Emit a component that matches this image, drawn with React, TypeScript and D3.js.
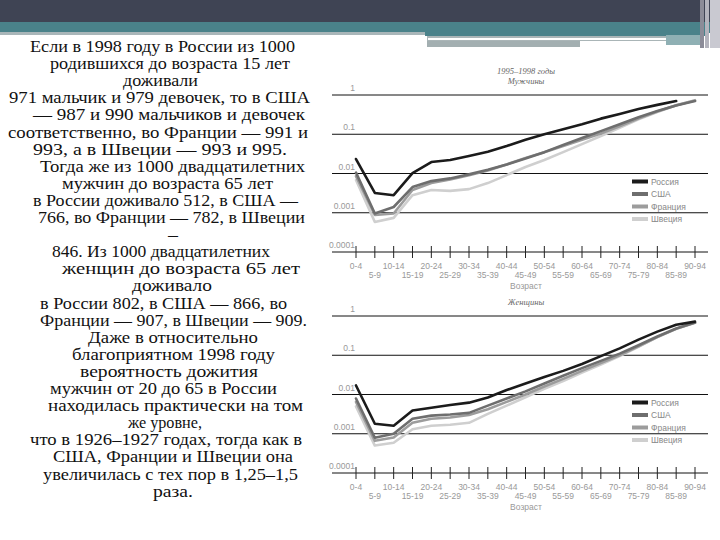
import * as d3 from 'd3';

const ages = ['0-4', '5-9', '10-14', '15-19', '20-24', '25-29', '30-34', '35-39', '40-44', '45-49',
  '50-54', '55-59', '60-64', '65-69', '70-74', '75-79', '80-84', '85-89', '90-94'];
const countries = ['Россия', 'США', 'Франция', 'Швеция'];
const yTicks = [1, 0.1, 0.01, 0.001, 0.0001];
const yTickLabels = ['1', '0.1', '0.01', '0.001', '0.0001'];

// вероятность смерти, мужчины
const menRussia = [0.0234, 0.0032, 0.0028, 0.0102, 0.0196, 0.022, 0.028, 0.036, 0.05, 0.072,
  0.1, 0.135, 0.18, 0.25, 0.33, 0.44, 0.56, 0.7, null];
const menUSA = [0.0105, 0.00096, 0.0014, 0.0045, 0.0064, 0.0075, 0.0095, 0.0125, 0.017, 0.024,
  0.035, 0.053, 0.08, 0.12, 0.18, 0.27, 0.39, 0.54, 0.7];
const menFrance = [0.0085, 0.00088, 0.00096, 0.0038, 0.0057, 0.007, 0.009, 0.012, 0.017, 0.025,
  0.035, 0.05, 0.072, 0.105, 0.16, 0.25, 0.38, 0.55, 0.72];
const menSweden = [0.0068, 0.00058, 0.00074, 0.0028, 0.0038, 0.0036, 0.004, 0.0057, 0.0091, 0.0146,
  0.022, 0.035, 0.056, 0.09, 0.145, 0.24, 0.37, 0.55, 0.74];

// вероятность смерти, женщины
const womenRussia = [0.017, 0.0018, 0.0016, 0.0039, 0.0046, 0.0054, 0.0062, 0.0084, 0.013, 0.019,
  0.028, 0.04, 0.06, 0.095, 0.15, 0.25, 0.4, 0.6, 0.72];
const womenUSA = [0.0079, 0.00079, 0.001, 0.0024, 0.0029, 0.0031, 0.0034, 0.0052, 0.0079, 0.012,
  0.019, 0.03, 0.047, 0.072, 0.11, 0.18, 0.3, 0.48, 0.68];
const womenFrance = [0.0065, 0.00066, 0.0008, 0.0019, 0.0024, 0.0026, 0.003, 0.0042, 0.0065, 0.01,
  0.016, 0.025, 0.04, 0.063, 0.1, 0.17, 0.29, 0.47, 0.67];
const womenSweden = [0.005, 0.0005, 0.00059, 0.0013, 0.0016, 0.0017, 0.0019, 0.0032, 0.0052, 0.0085,
  0.014, 0.022, 0.036, 0.058, 0.095, 0.165, 0.29, 0.47, 0.68];

const textLines = [
  'Если в 1998 году в России из 1000',
  'родившихся до возраста 15 лет',
  'доживали',
  '971 мальчик и 979 девочек, то в США',
  '— 987 и 990 мальчиков и девочек',
  'соответственно, во Франции — 991 и',
  '993, а в Швеции — 993 и 995.',
  'Тогда же из 1000 двадцатилетних',
  'мужчин до возраста 65 лет',
  'в России доживало 512, в США —',
  '766, во Франции — 782, в Швеции',
  '—',
  '846. Из 1000 двадцатилетних',
  'женщин до возраста 65 лет',
  'доживало',
  'в России 802, в США — 866, во',
  'Франции — 907, в Швеции — 909.',
  'Даже в относительно',
  'благоприятном 1998 году',
  'вероятность дожития',
  'мужчин от 20 до 65 в России',
  'находилась практически на том',
  'же уровне,',
  'что в 1926–1927 годах, тогда как в',
  'США, Франции и Швеции она',
  'увеличилась с тех пор в 1,25–1,5',
  'раза.',
];
// left / right edges of each text line
const lineSpans = [
  [30, 295], [50, 290], [123, 198], [9, 310], [33, 305], [8, 308], [33, 287], [40, 305],
  [62, 273], [33, 298], [38, 305], [168, 178], [52, 270], [62, 300], [132, 212], [40, 287],
  [40, 307], [88, 258], [72, 275], [80, 258], [50, 277], [48, 303], [128, 202], [30, 302],
  [53, 293], [43, 298], [153, 193],
];

const colors = ['#1b1b1b', '#6e6e6e', '#9c9c9c', '#cfcfcf'];
const sans = "'Liberation Sans', Arial, sans-serif";
const serif = "'Liberation Serif', 'Times New Roman', serif";

function Panel({ top, titles, series }: { top: number; titles: string[]; series: (number | null)[][] }) {
  const x = d3.scalePoint<string>().domain(ages).range([356, 695]);
  const y = d3.scaleLog().domain([1e-4, 1]).range([top + 157, top]);
  const line = d3.line<number | null>()
    .defined(d => d != null)
    .x((_, i) => x(ages[i]) as number)
    .y(d => y(d as number));
  const axisY = y(1e-4);
  const legendTop = y(0.01) + 8;

  return (
    <g>
      {titles.map((t, i) => (
        <text key={t} x={526} y={top - 21 + i * 10 + (titles.length === 1 ? 10 : 0)} textAnchor="middle"
          style={{ fontFamily: serif }} fontStyle="italic" fontSize={8.5} fill="#666">{t}</text>
      ))}
      {yTicks.map((t, i) => (
        <g key={t}>
          <line x1={332} x2={708} y1={y(t)} y2={y(t)} stroke="#111" strokeWidth={1} />
          <text x={355} y={y(t) - 4} textAnchor="end" style={{ fontFamily: sans }} fontSize={8.5} fill="#999">
            {yTickLabels[i]}
          </text>
        </g>
      ))}
      {ages.map((a, i) => (
        <g key={a}>
          <line x1={x(a)} x2={x(a)} y1={axisY - 6} y2={axisY + 6} stroke="#222" strokeWidth={1} />
          <text x={x(a)} y={axisY + (i % 2 === 0 ? 17 : 26)} textAnchor="middle" style={{ fontFamily: sans }}
            fontSize={8.5} fill="#999">{a}</text>
        </g>
      ))}
      <text x={526} y={axisY + 37} textAnchor="middle" style={{ fontFamily: sans }} fontSize={8.5} fill="#999">Возраст</text>
      {series.map((s, i) => ({ s, i })).reverse().map(({ s, i }) => (
        <path key={i} d={line(s) || ''} fill="none" stroke={colors[i]} strokeWidth={2.6}
          strokeLinejoin="round" strokeLinecap="round" />
      ))}
      {countries.map((c, i) => (
        <g key={c}>
          <line x1={632} x2={648} y1={legendTop + i * 12.5} y2={legendTop + i * 12.5} stroke={colors[i]} strokeWidth={4} />
          <text x={651} y={legendTop + i * 12.5 + 3} style={{ fontFamily: sans }} fontSize={8.5} fill="#888">{c}</text>
        </g>
      ))}
    </g>
  );
}

export default function App() {
  return (
    <svg width={720} height={540} style={{ position: 'fixed', left: 0, top: 0, background: '#fff' }}>
      <rect x={0} y={0} width={720} height={540} fill="#fff" />
      {/* header bands */}
      <rect x={0} y={0} width={720} height={22} fill="#3f4454" />
      <rect x={0} y={22} width={720} height={11} fill="#4a828a" />
      <rect x={0} y={32} width={425} height={3} fill="#a9b6b9" />
      <rect x={425} y={32} width={280} height={4} fill="#4a828a" />
      <rect x={427} y={36} width={240} height={5} fill="#aab5b7" />
      <rect x={428} y={38} width={238} height={2} fill="#fff" />
      <rect x={427} y={41} width={153} height={6} fill="#a3afb1" />
      <rect x={666} y={35} width={38} height={10} fill="#8fb0b4" />
      <rect x={700} y={0} width={4} height={48} fill="#8c8c98" />
      <rect x={705} y={0} width={4} height={48} fill="#b4b4bd" />
      <rect x={710} y={0} width={10} height={48} fill="#c9c9d1" />

      {textLines.map((t, i) => {
        const [x0, x1] = lineSpans[i];
        return (
          <text key={i} x={x0} y={52 + i * 17.1} style={{ fontFamily: serif }} fontSize={16}
            fill="#111" textLength={x1 - x0} lengthAdjust="spacingAndGlyphs">{t}</text>
        );
      })}

      <Panel top={95} titles={['1995–1998 годы', 'Мужчины']} series={[menRussia, menUSA, menFrance, menSweden]} />
      <Panel top={316} titles={['Женщины']} series={[womenRussia, womenUSA, womenFrance, womenSweden]} />
    </svg>
  );
}
